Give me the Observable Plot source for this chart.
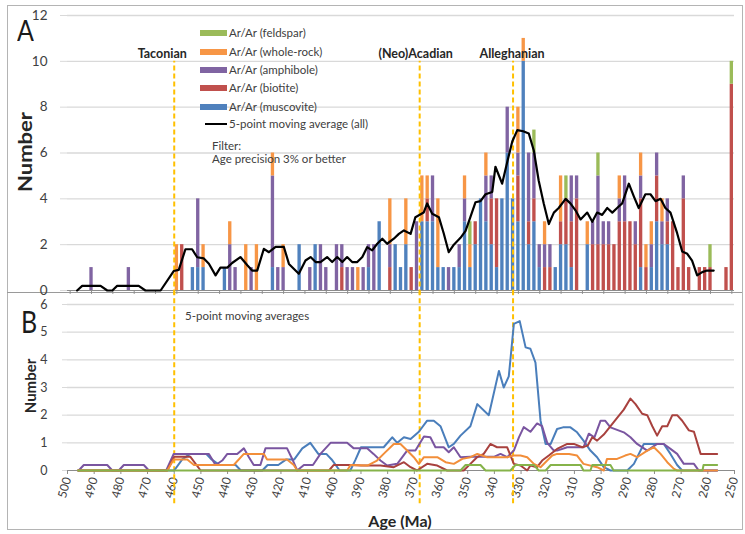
<!DOCTYPE html>
<html><head><meta charset="utf-8">
<script src="https://cdn.jsdelivr.net/npm/d3@7"></script>
<script src="https://cdn.jsdelivr.net/npm/@observablehq/plot@0.6"></script>
<style>
body{margin:0;background:#fff;font-family:Lato,"Open Sans",sans-serif;}
#wrap{position:relative;width:745px;height:534px;overflow:hidden;background:#fff;}
.abs{position:absolute;white-space:nowrap;}
#frame{position:absolute;left:7px;top:5px;width:734px;height:523px;border:1px solid #b4b4b4;}
#sep{position:absolute;left:7px;top:292px;width:735px;height:0;border-top:1.5px solid #9a9a9a;}
.leg{position:absolute;left:200px;height:16px;line-height:16px;font-size:11.5px;color:#404040;display:flex;align-items:center;}
.sw{display:inline-block;width:27px;height:6px;margin-right:2px;}
.txt{position:absolute;color:#404040;white-space:nowrap;}
</style></head><body>
<div id="wrap">
  <div id="frame"></div>
  <div id="sep"></div>
  <div id="pa" class="abs" style="left:0;top:0"></div>
  <div id="pb" class="abs" style="left:0;top:293px"></div>
</div>
<script>
// ---------- Panel A: stacked histogram (2 Ma bins, centre ages) ----------
const binAges = [491,477,459,457,453,451,449,441,439,437,
  433,431,429,423,421,419,413,409,407,405,
  403,399,397,395,393,391,389,387,385,383,
  379,377,375,373,371,369,367,365,363,361,
  359,357,355,353,351,349,347,345,343,341,
  339,337,335,333,331,329,327,325,323,321,
  319,317,315,313,311,309,305,303,301,299,
  297,295,293,291,289,287,285,283,281,279,
  277,275,273,271,269,267,263,261,259,253,
  251];
const muscovite = [0,0,0,0,1,1,1,1,0,0, 0,0,0,1,0,0,2,0,2,0, 0,0,0,0,0,0,0,1,0,3, 0,2,1,2,0,0,3,3,3,1, 1,0,1,1,3,1,2,4,3,2, 1,4,6,4,3,10,2,3,1,0, 0,1,2,2,1,0,2,0,0,0, 0,0,0,0,0,0,1,0,1,3, 2,2,0,0,0,0,0,0,0,0, 0];
const biotite   = [0,0,0,2,0,0,0,0,0,0, 0,0,0,0,0,0,0,0,0,0, 0,0,1,0,0,0,0,0,0,0, 1,0,0,0,1,0,0,1,0,0, 0,0,0,0,0,0,1,0,0,2, 3,0,0,0,2,0,1,1,0,1, 1,0,1,2,2,4,0,2,2,2, 2,2,3,3,3,2,3,1,0,2, 0,1,3,1,4,1,1,1,1,1, 9];
const amphibole = [1,1,0,0,0,3,0,0,2,1, 0,1,0,4,1,1,0,1,0,2, 1,2,1,1,1,0,1,1,2,0, 1,0,0,0,0,3,0,0,2,0, 0,1,0,1,1,0,0,0,2,1, 0,0,2,0,1,0,3,2,1,1, 1,0,0,0,2,1,0,1,3,1, 1,0,1,2,0,1,1,0,1,1, 1,1,0,0,1,0,0,0,0,0, 0];
const wholeRock = [0,0,2,0,0,0,1,0,1,0, 2,0,2,1,0,1,0,0,0,0, 0,0,0,0,0,1,0,0,0,0, 2,0,0,2,0,0,2,1,0,3, 0,0,0,0,1,1,0,0,1,0, 0,0,0,0,2,1,0,0,0,1, 0,0,2,0,0,0,1,0,0,0, 0,0,1,0,0,0,1,1,1,0, 1,0,0,0,0,0,0,0,0,0, 0];
const feldspar  = [0,0,0,0,0,0,0,0,0,0, 0,0,0,0,0,0,0,0,0,0, 0,0,0,0,0,0,0,0,0,0, 0,0,0,0,0,0,0,0,0,0, 0,0,0,0,0,1,0,0,0,0, 0,0,0,0,0,0,0,1,0,0, 0,0,0,1,0,0,0,0,1,0, 0,0,0,0,0,0,0,0,0,0, 0,0,0,0,0,0,0,0,1,0, 1];

const typeNames  = ["Ar/Ar (muscovite)","Ar/Ar (biotite)","Ar/Ar (amphibole)","Ar/Ar (whole-rock)","Ar/Ar (feldspar)"];
const typeColors = ["#4F81BD","#C0504D","#8064A2","#F79646","#9BBB59"];

// 5-point moving average (all)
const maAges   = [496.4,494.5,487.6,485.1,483.2,481.4,473.3,470.8,465.1,460.2,458.3,455.8,453.3,451.4,448.9,447,444.5,442.7,440.1,438.3,435.2,432.6,430.8,428.9,426.4,424.5,422,418.9,417,413.3,410.8,408.9,407,405.2,402.7,400.8,398.9,397,395.2,393.3,391.4,389.5,387.7,385.8,383.9,382,380.2,377.7,375.8,373.9,371.4,369.6,366.5,365.2,363.3,360.8,359,357.1,355.2,352.7,350.8,349,347.1,345.2,343.3,340.8,339.6,337.1,335.2,333.3,331.4,329.2,327.1,325.2,323.4,321.5,319.6,317.7,315.9,313.3,311.5,309.6,307.7,305.2,303.3,301.5,299.6,297.7,295.8,294,292.1,289.6,287.7,285.9,283.4,281.5,279.6,277.7,275.9,274,271.5,269.6,267.7,265.9,264,262.1,260.3,257.8];
const maValues = [0,0.2,0.2,0,0,0.2,0.2,0,0,0.85,0.9,1.8,1.8,1.45,1.4,1.17,0.66,1.0,1.0,1.2,1.46,1.1,0.87,0.87,1.82,1.67,1.9,1.9,1.16,0.73,1.31,1.46,1.24,1.24,1.46,1.24,1.46,1.24,1.46,1.24,1.24,1.46,1.89,1.75,2.04,2.26,2.04,2.26,2.47,2.62,2.47,3.2,3.4,3.8,3.35,3.2,2.5,1.67,2.0,2.3,2.6,3.2,3.85,3.9,4.2,4.3,5.4,4.66,5.6,6.5,7.0,6.95,6.85,6.1,4.8,3.8,2.9,3.4,3.6,4.0,3.8,3.5,3.1,3.4,3.0,3.4,3.3,3.6,3.4,3.6,3.8,4.66,4.1,3.6,4.2,4.2,3.9,4.0,3.6,3.4,2.5,1.7,1.6,1.3,0.66,0.8,0.87,0.87];

// orogenic events
const eventNames = ["Taconian","(Neo)Acadian","Alleghanian"];
const eventAges  = [460, 368, 333];

const aYTicks = [0,2,4,6,8,10,12];
const aXTicks = [499,491,483,475,467,459,451,443,435,427,419,411,403,395,387,379,371,363,355,347,339,331,323,315,307,299,291,283,275,267,259,251];

// ---------- Panel B: 5-point moving averages per mineral (vertices) ----------
const muscAvg = [[496,0],[460,0],[457,0.4],[454,0.6],[448,0.6],[446,0.4],[443,0.2],[437,0.2],[435,0],[427,0],[425,0.2],[421,0.2],[418,0.4],[415,0.4],[412,0.8],[409,1.0],[406,0.6],[403,0.6],[401,0.4],[398,0],[394,0],[392,0.4],[390,0.84],[381.5,0.84],[378.3,1.2],[376.4,1.0],[373.9,1.2],[371.4,1.14],[368.3,1.4],[365.2,1.8],[362.7,1.8],[360.2,1.6],[357.1,0.84],[355.2,0.96],[352.7,1.26],[349,1.6],[346.4,2.4],[342.1,2.0],[338.3,3.6],[336.5,3.0],[334.6,3.4],[332.7,5.3],[330.5,5.4],[328.3,4.45],[326.5,4.4],[324.6,3.9],[322.7,1.8],[320.8,0.96],[318.9,0.96],[316.5,1.5],[314.3,1.56],[311.5,1.56],[309,1.38],[306.6,1.08],[304,0.72],[301.5,0.48],[299,0.12],[296.5,0],[290.2,0],[287.7,0.24],[284,0.96],[279,0.96],[276.5,0.96],[274,0.6],[271.5,0.2],[269.6,0],[256.5,0]];
const amphAvg = [[496,0],[495.8,0],[493.9,0.2],[485.1,0.2],[483.2,0],[480.8,0],[478.9,0.2],[471.4,0.2],[469.5,0],[463,0],[460.2,0.6],[450.1,0.6],[447,0.6],[444.5,0.2],[442,0.36],[440.1,0.6],[436.4,0.6],[433.9,0.8],[432,0.48],[430.2,0.2],[427.7,0.2],[425.8,0.8],[417.7,0.8],[415.5,0.36],[413.9,0],[411.4,0.2],[408,0.2],[405.2,0.6],[401.4,1.0],[395.2,1.0],[392.7,0.8],[387.7,0.8],[385.3,0.6],[382.7,0.36],[380.2,0.18],[376.4,0.24],[372.7,0.72],[369.6,0.72],[366.4,1.23],[364,1.2],[362.1,0.84],[359,0.84],[357.1,0.66],[355.2,0.84],[352.7,0.48],[349,0.5],[340,0.5],[337.7,0.6],[335.2,0.48],[332.7,0.72],[330.8,1.2],[329,1.57],[326.5,1.4],[324,1.7],[322.1,1.6],[320.2,1.0],[317.7,0.72],[316.5,0.72],[312.7,0.84],[306.6,0.84],[304.6,1.33],[302.5,1.2],[300.2,1.8],[298.5,1.8],[296.5,1.56],[291.5,1.38],[289,1.2],[286.5,0.96],[282.7,0.72],[279,0.96],[276.5,0.96],[274,0.78],[271.5,0.6],[269,0.24],[265.2,0.24],[263.4,0],[256.5,0]];
const bioAvg = [[496,0],[462.6,0],[460,0.5],[454,0.5],[450.1,0],[402,0],[400.2,0.2],[392.7,0.2],[390,0.18],[382.7,0.18],[377.7,0.12],[373.9,0.3],[371.4,0.12],[369,0],[365.2,0.24],[361.4,0.18],[357.7,0],[351.5,0],[349,0.24],[346.5,0.48],[344,0.6],[341.5,0.96],[339,0.84],[335.2,0.84],[332.7,0.24],[330.2,0.18],[327.7,0],[326.5,0.18],[324,0.12],[322.1,0.36],[319.6,0.54],[316.5,0.78],[312.7,0.96],[310.2,0.96],[307.1,0.84],[305,0.9],[303.3,1.2],[301.5,1.08],[299,1.3],[294,1.9],[291.5,2.2],[289,2.6],[287.1,2.4],[284.6,2.05],[282.7,2.0],[280.8,1.6],[279,1.26],[277.1,1.6],[275.2,1.6],[273.3,2.0],[271.5,2.0],[269.6,1.8],[267.1,1.45],[265.2,1.4],[262.7,0.6],[256.5,0.6]];
const wrAvg = [[496,0],[462.6,0],[460.2,0.4],[455.1,0.4],[452.6,0.2],[437.7,0.2],[433.9,0.6],[426.4,0.6],[425.2,0.4],[417.7,0.4],[415.2,0.2],[413.9,0],[395.2,0],[393.9,0.2],[387.6,0.18],[384,0.36],[381.5,0.6],[377.7,0.96],[375.2,0.96],[372.7,0.72],[370.2,0.48],[368.3,0.24],[366.4,0.48],[361.4,0.48],[358.3,0.3],[355.2,0.24],[352,0.42],[349,0.48],[346.4,0.6],[342.7,0.48],[335.2,0.48],[332.7,0.54],[330.2,0.54],[327.7,0.48],[325.2,0.24],[322.7,0.12],[320.2,0.36],[318.3,0.54],[316.5,0.6],[312,0.6],[309,0.54],[306.6,0.24],[301.5,0.12],[299,0],[297.8,0.42],[294,0.42],[291,0.54],[289,0.6],[286.5,0.48],[282.7,0.72],[280.2,0.84],[277.7,0.6],[275.2,0.3],[272.7,0.06],[271.5,0],[256.5,0]];
const feldAvg = [[496,0],[352.7,0],[350.8,0.2],[345.2,0.2],[343.3,0],[334,0],[332.1,0.2],[325.2,0.2],[323.4,0],[320.8,0],[318.9,0.2],[307.7,0.2],[306.6,0],[304,0],[303.3,0.2],[296.5,0.2],[295.3,0],[262,0],[261.6,0.2],[256.5,0.2]];
const lineColors = {musc:"#4A7EBB", amph:"#7A55A0", bio:"#A8413E", wr:"#F28E3A", feld:"#86B34A"};

const bYTicks = [0,1,2,3,4,5,6];
const bXTicks = [500,490,480,470,460,450,440,430,420,410,400,390,380,370,360,350,340,330,320,310,300,290,280,270,260,250];

// ---------- build ----------
const series = [muscovite, biotite, amphibole, wholeRock, feldspar];
const rows = [];
binAges.forEach((age, i) => series.forEach((arr, k) => rows.push({age, type: typeNames[k], n: arr[i]})));
const maRows = maAges.map((a, i) => ({age: a, v: maValues[i]}));

const FONT = "Lato, 'Open Sans', sans-serif";
const X_DOMAIN = [500, 250];

const plotA = Plot.plot({
  width: 745, height: 293,
  marginTop: 15, marginBottom: 3, marginLeft: 67, marginRight: 11,
  x: {domain: X_DOMAIN, axis: null},
  y: {domain: [0, 12], axis: null},
  color: {domain: typeNames, range: typeColors},
  style: {fontFamily: FONT, fontSize: "12.5px", background: "transparent", overflow: "visible", color: "#404040"},
  marks: [
    Plot.ruleY(aYTicks.slice(1), {stroke: "#d9d9d9", strokeWidth: 1.3}),
    Plot.axisY({ticks: aYTicks, tickSize: 7, tickPadding: 13, stroke: "#d9d9d9", fill: "#404040", fontSize: 13.5, tickFormat: d => String(d), label: null}),
    Plot.rectY(rows, {x1: d => d.age + 1, x2: d => d.age - 1, y: "n", fill: "type", insetLeft: 1, insetRight: 1}),
    Plot.ruleY([0], {stroke: "#8c8c8c", strokeWidth: 1.2}),
    Plot.ruleX(aXTicks, {y1: 0, y2: -0.17, stroke: "#8c8c8c"}),
    Plot.ruleX(eventAges, {y1: -0.2, y2: 10, stroke: "#FFC000", strokeWidth: 2, strokeDasharray: "5,3"}),
    Plot.line(maRows, {x: "age", y: "v", stroke: "#000", strokeWidth: 2.2, curve: "linear"}),
    Plot.text([0], {x: eventAges[0], y: 10, text: () => eventNames[0], dx: -12, dy: -7, fontWeight: "bold", fontSize: 12.5, fill: "#262626"}),
    Plot.text([1], {x: eventAges[1], y: 10, text: () => eventNames[1], dx: -4, dy: -7, fontWeight: "bold", fontSize: 12.5, fill: "#262626"}),
    Plot.text([2], {x: eventAges[2], y: 10, text: () => eventNames[2], dx: -1, dy: -7, fontWeight: "bold", fontSize: 12.5, fill: "#262626"})
  ]
});
document.getElementById("pa").appendChild(plotA);

const toRows = arr => arr.map(([a, v]) => ({age: a, v}));
const plotB = Plot.plot({
  width: 745, height: 241,
  marginTop: 11, marginBottom: 64, marginLeft: 67, marginRight: 11,
  x: {domain: X_DOMAIN, axis: null},
  y: {domain: [0, 6], axis: null},
  style: {fontFamily: FONT, fontSize: "12px", background: "transparent", overflow: "visible", color: "#404040"},
  marks: [
    Plot.ruleY(bYTicks.slice(1), {stroke: "#d9d9d9", strokeWidth: 1.3}),
    Plot.axisY({ticks: bYTicks, tickSize: 5, tickPadding: 15, stroke: "#d9d9d9", fill: "#404040", fontSize: 12.5, tickFormat: d => String(d), label: null}),
    Plot.axisX({ticks: bXTicks, tickRotate: -75, tickSize: 4, tickPadding: 3, stroke: "#8c8c8c", fill: "#404040", fontSize: 12, tickFormat: d => String(d), label: null}),
    Plot.ruleY([0], {stroke: "#8c8c8c", strokeWidth: 1.2}),
    Plot.ruleX(eventAges, {y1: -1.2, y2: 6.45, stroke: "#FFC000", strokeWidth: 2, strokeDasharray: "5,3"}),
    Plot.line(toRows(muscAvg), {x: "age", y: "v", stroke: lineColors.musc, strokeWidth: 2}),
    Plot.line(toRows(amphAvg), {x: "age", y: "v", stroke: lineColors.amph, strokeWidth: 2}),
    Plot.line(toRows(bioAvg),  {x: "age", y: "v", stroke: lineColors.bio,  strokeWidth: 2}),
    Plot.line(toRows(wrAvg),   {x: "age", y: "v", stroke: lineColors.wr,   strokeWidth: 2}),
    Plot.line(toRows(feldAvg), {x: "age", y: "v", stroke: lineColors.feld, strokeWidth: 2})
  ]
});
document.getElementById("pb").appendChild(plotB);

// ---------- text / legend ----------
const wrap = document.getElementById("wrap");
function addText(html, css) {
  const d = document.createElement("div");
  d.className = "txt";
  d.innerHTML = html;
  Object.assign(d.style, css);
  wrap.appendChild(d);
  return d;
}
addText("A", {left: "17px", top: "14px", fontSize: "25px", color: "#1a1a1a", transform: "scaleY(1.15)"});
addText("B", {left: "21px", top: "305px", fontSize: "25px", color: "#1a1a1a", transform: "scaleY(1.25)"});
addText("Number", {left: "25px", top: "152px", fontSize: "18px", fontWeight: "bold", color: "#262626", transform: "translate(-50%,-50%) rotate(-90deg) scaleX(1.22)"});
addText("Number", {left: "30px", top: "386px", fontSize: "15px", fontWeight: "bold", color: "#262626", transform: "translate(-50%,-50%) rotate(-90deg)"});
addText("Age (Ma)", {left: "400px", top: "520px", fontSize: "16px", fontWeight: "bold", color: "#262626", transform: "translate(-50%,-50%)"});
addText("5-point moving averages", {left: "185px", top: "309px", fontSize: "11.5px"});
addText("Filter:", {left: "212px", top: "139px", fontSize: "11.5px"});
addText("Age precision 3% or better", {left: "212px", top: "152px", fontSize: "11.5px"});

const legendItems = [
  {label: typeNames[4], color: typeColors[4]},
  {label: typeNames[3], color: typeColors[3]},
  {label: typeNames[2], color: typeColors[2]},
  {label: typeNames[1], color: typeColors[1]},
  {label: typeNames[0], color: typeColors[0]},
  {label: "5-point moving average (all)", color: "#000", line: true}
];
const legendTops = [25, 44, 62, 80, 99, 116];
legendItems.forEach((it, i) => {
  const d = document.createElement("div");
  d.className = "leg";
  d.style.top = legendTops[i] + "px";
  const sw = document.createElement("span");
  sw.className = "sw";
  sw.style.background = it.color;
  if (it.line) { sw.style.height = "2px"; sw.style.width = "22px"; sw.style.marginLeft = "5px"; }
  d.appendChild(sw);
  d.appendChild(document.createTextNode(it.label));
  wrap.appendChild(d);
});
</script>
</body></html>
